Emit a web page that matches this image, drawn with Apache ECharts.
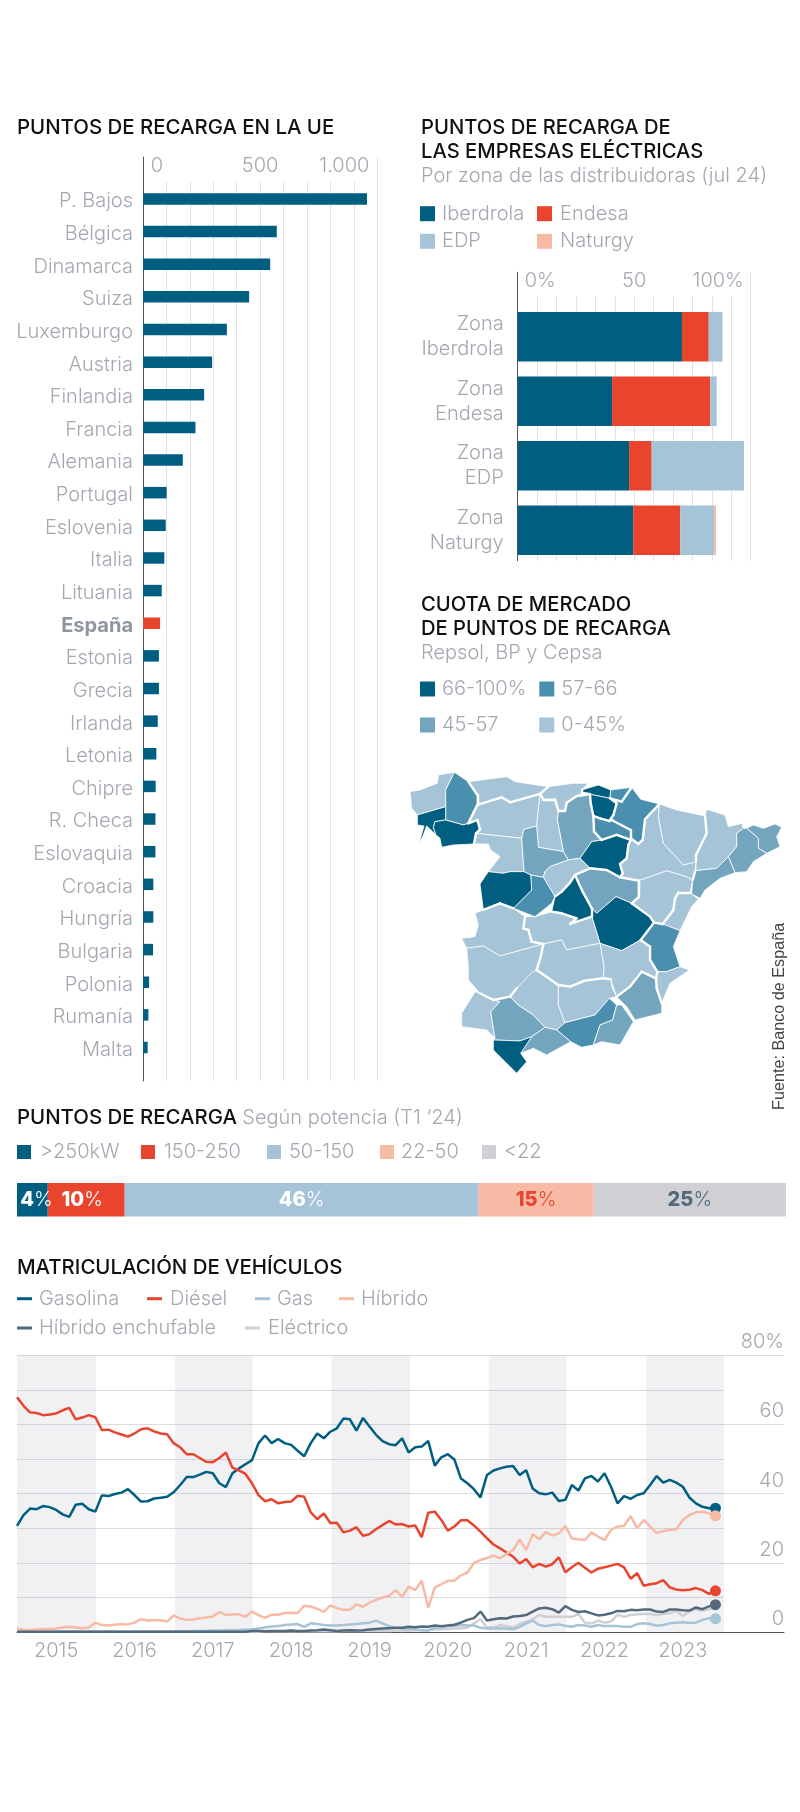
<!DOCTYPE html>
<html style="height: 100%">
<head>
    <meta charset="utf-8">
    <style>
        body{margin: 0; background: #fff}
        #container{width: 800px; height: 1812px}
    </style>
</head>
<body>
<div id="container"></div>
<script src="https://cdn.jsdelivr.net/npm/echarts@6/dist/echarts.min.js"></script>
<script type="text/javascript">
    var paises = ["P. Bajos","Bélgica","Dinamarca","Suiza","Luxemburgo","Austria","Finlandia","Francia","Alemania","Portugal","Eslovenia","Italia","Lituania","España","Estonia","Grecia","Irlanda","Letonia","Chipre","R. Checa","Eslovaquia","Croacia","Hungría","Bulgaria","Polonia","Rumanía","Malta"];
    var puntosUE = [956,571,543,453,358,295,261,224,170,101,97,91,80,73,68,68,63,57,54,53,53,44,44,43,26,23,20];
    var ticksUE = {0:"0",500:"500",1000:"1.000"};

    var zonas = ["Zona\nIberdrola","Zona\nEndesa","Zona\nEDP","Zona\nNaturgy"];
    var zonaIberdrola = [70.5,40.5,47.8,49.6];
    var zonaEndesa = [11.5,42.2,9.7,20.2];
    var zonaEDP = [5.9,2.7,39.6,14.5];
    var zonaNaturgy = [0,0,0,0.8];

    var potencias = [">250kW","150-250","50-150","22-50","<22"];
    var potenciaValores = [4,10,46,15,25];

    var provincias = ["A Coruña","Lugo","Pontevedra","Ourense","Asturias","Cantabria","Vizcaya","Gipuzkoa","Álava","Navarra","La Rioja","Burgos","Palencia","León","Zamora","Valladolid","Soria","Segovia","Ávila","Salamanca","Madrid","Guadalajara","Cuenca","Teruel","Zaragoza","Huesca","Lleida","Girona","Barcelona","Tarragona","Castellón","Valencia","Alicante","Murcia","Albacete","Toledo","Ciudad Real","Cáceres","Badajoz","Huelva","Sevilla","Córdoba","Jaén","Granada","Almería","Málaga","Cádiz"];
    var comunidad = ["GA","GA","GA","GA","AS","CB","PV","PV","PV","NC","RI","CL","CL","CL","CL","CL","CL","CL","CL","CL","MD","CM","CM","AR","AR","AR","CT","CT","CT","CT","VC","VC","VC","MC","CM","CM","CM","EX","EX","AN","AN","AN","AN","AN","AN","AN","AN"];
    var cuota = [38,60,72,74,36,40,70,59,71,61,60,50,38,36,35,51,72,37,62,70,78,49,75,34,36,38,40,52,50,48,37,60,39,50,35,33,34,36,35,39,50,37,36,58,51,49,73];
    var tramos = ["66-100%","57-66","45-57","0-45%"];

    var anios = ["2015","2016","2017","2018","2019","2020","2021","2022","2023"];
    var mesAnio = [6,18,30,42,54,66,78,90,102];
    var bandas = [[0,12.1],[24.2,36.1],[48.2,60.2],[72.3,84.2],[96.4,108.3]];
    var gasolina = [30.7,33.8,35.7,35.5,36.4,36.1,35.3,34.0,33.3,36.8,37.1,35.5,34.8,39.5,39.3,39.9,40.3,41.3,39.6,37.7,37.8,38.6,38.8,39.1,40.4,42.5,44.8,44.8,45.5,46.3,45.9,43.0,41.9,45.9,47.3,48.5,49.7,54.6,56.8,54.6,55.8,54.6,54.1,52.4,50.8,54.6,57.4,56.0,57.9,58.9,61.7,61.5,58.2,61.9,59.4,57.0,55.2,54.3,54.0,56.0,51.9,53.4,53.6,55.2,48.1,50.5,51.4,49.9,44.4,43.0,41.3,38.9,45.4,46.7,47.3,47.8,48.0,45.4,46.8,41.5,40.1,39.8,40.3,37.9,38.2,42.5,40.9,44.4,45.1,43.5,45.9,42.0,37.2,39.3,38.5,39.6,40.1,42.5,45.1,43.2,44.0,43.2,42.0,38.9,37.2,36.2,35.8,35.8];
    var diesel = [67.9,65.4,63.5,63.3,62.7,62.9,63.2,64.1,64.8,61.5,62.0,62.7,62.1,58.4,58.5,57.7,57.1,56.5,57.4,58.6,58.9,58.0,57.4,57.2,54.6,53.4,51.4,51.4,50.3,49.2,49.1,50.3,51.9,47.5,46.7,45.7,43.0,39.6,37.8,38.4,37.2,37.6,37.7,39.4,39.1,34.6,32.6,34.3,31.5,31.6,28.8,29.3,30.3,27.8,28.3,29.7,30.9,32.1,31.1,31.2,30.5,30.8,27.4,34.5,34.8,32.4,29.3,30.5,32.3,32.3,30.8,29.0,27.1,25.3,24.2,23.0,21.8,19.8,21.1,18.7,19.7,18.9,19.6,21.6,17.3,18.7,20.0,18.6,17.2,18.3,18.7,19.2,19.7,18.7,15.4,17.0,13.4,13.8,14.1,15.0,12.9,12.3,12.1,12.2,12.7,12.1,11.0,11.9];
    var gas = [0.1,0.1,0.1,0.1,0.1,0.1,0.1,0.1,0.1,0.1,0.1,0.1,0.1,0.1,0.1,0.1,0.1,0.1,0.1,0.1,0.1,0.1,0.1,0.1,0.2,0.2,0.2,0.3,0.3,0.3,0.4,0.4,0.5,0.5,0.6,0.7,0.8,1.0,1.3,1.6,1.7,2.0,2.2,2.3,1.5,2.5,2.3,2.0,1.9,1.9,2.0,2.2,2.3,2.5,2.7,3.3,2.5,1.7,1.2,1.0,0.8,0.8,0.5,0.4,1.2,1.3,1.7,1.7,2.0,1.9,1.9,1.2,1.0,1.0,1.1,1.0,0.8,1.5,2.5,3.3,2.0,1.7,2.0,2.2,1.8,1.5,2.0,1.9,1.5,2.0,1.7,1.7,1.7,1.5,1.5,2.3,2.5,2.3,1.8,2.0,2.5,2.7,2.8,2.7,2.7,3.5,4.0,3.8];
    var hibrido = [1.1,0.6,0.6,0.8,0.8,0.9,1.0,1.3,1.5,1.3,1.1,1.3,2.7,2.0,1.9,2.1,2.3,2.2,2.7,3.7,3.3,3.4,3.4,3.0,4.8,3.9,3.5,3.6,4.0,4.2,4.5,5.8,4.9,5.1,5.1,4.4,5.9,4.9,4.1,5.0,5.0,5.5,5.6,5.5,7.6,7.4,6.7,5.8,7.7,6.9,6.4,6.4,8.0,7.3,8.5,9.3,10.0,10.5,12.1,10.2,13.1,12.1,14.8,7.0,12.9,13.8,14.8,14.8,16.4,17.2,20.0,20.8,21.4,22.1,21.3,22.6,23.7,26.8,23.7,28.3,26.8,28.9,27.9,28.5,30.7,27.0,26.8,26.6,28.8,27.6,26.6,29.5,30.5,30.7,33.5,30.0,32.4,30.5,28.6,29.2,29.5,29.7,32.4,33.8,34.6,34.8,34.3,33.6];
    var enchufable = [0.1,0.1,0.1,0.1,0.1,0.1,0.1,0.1,0.1,0.1,0.1,0.1,0.1,0.1,0.1,0.1,0.1,0.1,0.1,0.1,0.1,0.1,0.1,0.1,0.1,0.1,0.1,0.1,0.1,0.1,0.1,0.1,0.1,0.1,0.1,0.1,0.3,0.3,0.2,0.3,0.3,0.3,0.4,0.3,0.3,0.4,0.5,0.7,0.5,0.3,0.4,0.5,0.4,0.5,0.7,0.9,1.0,1.1,1.2,1.2,1.5,1.4,1.6,1.5,1.9,1.7,1.9,2.1,2.7,3.5,4.0,5.9,3.3,3.7,4.0,3.9,4.5,4.6,4.9,5.9,6.8,7.0,6.6,5.6,7.5,6.4,5.8,6.0,5.4,4.8,5.0,5.4,6.1,6.0,6.4,6.3,6.5,6.5,5.9,5.8,6.5,6.5,6.3,6.2,7.1,6.6,7.4,7.9];
    var electrico = [0.1,0.1,0.1,0.1,0.1,0.1,0.1,0.1,0.1,0.1,0.1,0.1,0.1,0.1,0.1,0.1,0.1,0.1,0.1,0.1,0.1,0.1,0.1,0.1,0.1,0.1,0.1,0.1,0.1,0.1,0.1,0.1,0.1,0.1,0.1,0.1,0.1,0.1,0.2,0.2,0.2,0.2,0.2,0.2,0.2,0.2,0.2,0.3,0.2,0.2,0.3,0.3,0.3,0.3,0.3,0.3,0.3,0.3,0.4,0.4,0.4,0.5,0.5,0.6,0.7,0.8,0.9,1.0,1.1,1.3,2.5,3.7,1.3,1.3,2.0,1.7,1.3,2.3,3.0,3.7,4.9,4.4,4.4,4.4,4.4,4.4,5.2,2.7,2.5,3.3,2.7,3.0,5.0,4.4,4.9,5.1,5.2,5.2,4.9,5.2,5.4,6.1,4.6,5.9,6.6,6.1,6.6,6.8];

    // contornos de las provincias, en el sistema de la propia imagen
    var contornos = {
        "A Coruña":[[30,155],[60,150],[112,130],[115,105],[163,97],[137,150],[137,200],[52,225],[35,205]],
        "Lugo":[[163,97],[205,125],[232,165],[232,195],[222,215],[205,250],[190,255],[137,240],[137,200],[137,150]],
        "Pontevedra":[[52,225],[137,200],[137,240],[105,245],[100,262],[108,285],[80,258],[70,285],[57,310],[72,258],[52,255]],
        "Ourense":[[105,245],[137,240],[190,255],[205,250],[232,240],[240,268],[228,280],[222,312],[160,315],[125,322],[120,295],[108,285],[100,262]],
        "Asturias":[[205,125],[320,110],[345,125],[445,140],[420,162],[330,187],[305,172],[232,195],[232,165]],
        "Cantabria":[[445,140],[520,130],[565,130],[545,150],[545,158],[570,163],[530,168],[500,188],[495,212],[475,212],[465,178],[430,178],[420,162]],
        "Vizcaya":[[545,150],[595,135],[632,150],[630,175],[570,163],[545,158]],
        "Gipuzkoa":[[632,150],[695,142],[665,185],[630,175]],
        "Álava":[[570,163],[630,175],[650,190],[640,225],[628,243],[600,235],[580,228],[572,190]],
        "Navarra":[[695,142],[722,178],[778,192],[735,238],[728,300],[715,312],[692,295],[692,270],[635,240],[628,243],[640,225],[650,190],[630,175],[665,185]],
        "La Rioja":[[580,228],[600,235],[628,243],[635,240],[692,270],[692,295],[692,300],[650,285],[605,300],[582,275]],
        "Burgos":[[495,212],[500,188],[530,168],[570,163],[572,190],[580,228],[582,275],[605,300],[575,305],[540,355],[505,360],[490,335],[472,240],[475,212]],
        "Palencia":[[420,162],[430,178],[465,178],[475,212],[472,240],[490,335],[415,322],[410,258],[412,230]],
        "León":[[232,195],[305,172],[330,187],[420,162],[412,230],[410,258],[372,268],[365,295],[228,280],[240,268],[232,240],[205,250],[222,215]],
        "Zamora":[[228,280],[365,295],[372,395],[330,395],[310,400],[265,395],[300,350],[272,330],[265,312],[222,312]],
        "Valladolid":[[372,268],[410,258],[415,322],[490,335],[505,360],[450,380],[435,395],[430,412],[392,405],[372,395],[365,295]],
        "Soria":[[575,305],[605,300],[650,285],[692,300],[685,315],[680,355],[660,372],[668,400],[660,412],[620,390],[570,385],[540,355]],
        "Segovia":[[505,360],[540,355],[570,385],[525,405],[510,428],[485,455],[465,470],[430,412],[435,395],[450,380]],
        "Ávila":[[392,405],[430,412],[465,470],[455,490],[405,530],[340,505],[395,450]],
        "Salamanca":[[265,395],[310,400],[330,395],[372,395],[392,405],[395,450],[340,505],[300,490],[250,510],[240,432]],
        "Madrid":[[525,405],[548,455],[575,505],[575,530],[510,552],[530,535],[485,520],[455,515],[465,470],[485,455],[510,428]],
        "Guadalajara":[[525,405],[570,385],[620,390],[660,412],[715,422],[715,472],[695,490],[648,470],[590,520],[575,505],[548,455]],
        "Cuenca":[[648,470],[695,490],[750,530],[762,548],[722,600],[665,632],[600,610],[580,545],[575,530],[575,505],[590,520]],
        "Teruel":[[715,422],[800,392],[860,410],[878,420],[870,458],[835,458],[825,475],[820,510],[788,552],[762,548],[750,530],[695,490],[715,472]],
        "Zaragoza":[[735,238],[778,192],[775,230],[790,310],[850,375],[888,365],[885,395],[878,420],[860,410],[800,392],[715,422],[660,412],[668,400],[660,372],[680,355],[685,315],[692,300],[692,295],[715,312],[728,300]],
        "Huesca":[[778,192],[830,210],[915,228],[920,280],[888,345],[888,365],[850,375],[790,310],[775,230]],
        "Lleida":[[915,228],[920,208],[975,225],[985,260],[1025,250],[1030,265],[1010,280],[1010,320],[985,350],[975,360],[950,385],[888,392],[888,365],[888,345],[920,280]],
        "Girona":[[1040,265],[1060,255],[1090,265],[1125,252],[1145,262],[1130,290],[1140,320],[1100,340],[1075,325],[1075,295]],
        "Barcelona":[[1010,280],[1030,265],[1040,265],[1075,295],[1075,325],[1100,340],[1060,365],[1040,395],[1005,398],[985,350],[1010,320]],
        "Tarragona":[[975,360],[985,350],[1005,398],[960,415],[915,450],[900,475],[875,462],[878,420],[885,395],[888,392],[950,385]],
        "Castellón":[[835,458],[870,458],[875,462],[895,478],[875,500],[840,572],[788,552],[820,510],[825,475]],
        "Valencia":[[762,548],[788,552],[840,572],[820,620],[840,680],[800,695],[772,695],[750,660],[750,620],[722,600]],
        "Alicante":[[772,695],[800,695],[840,680],[868,690],[810,730],[785,790],[770,745],[768,715]],
        "Murcia":[[725,695],[768,715],[770,745],[785,790],[785,820],[705,840],[680,800],[650,770],[690,740]],
        "Albacete":[[600,610],[665,632],[722,600],[750,620],[750,660],[772,695],[768,715],[725,695],[690,740],[650,770],[632,718],[610,715],[612,680]],
        "Toledo":[[375,530],[405,530],[455,515],[485,520],[530,535],[510,552],[575,530],[580,545],[600,610],[500,630],[485,600],[430,612],[395,605],[385,570],[370,565]],
        "Ciudad Real":[[430,612],[485,600],[500,630],[600,610],[612,680],[610,715],[555,722],[510,740],[475,735],[410,690],[422,650]],
        "Cáceres":[[225,520],[250,510],[300,490],[340,505],[375,530],[370,565],[385,570],[395,605],[430,612],[300,648],[250,618],[200,625],[185,595],[225,590],[235,555]],
        "Badajoz":[[200,625],[250,618],[300,648],[430,612],[422,650],[410,690],[350,745],[330,770],[280,780],[240,760],[205,720],[205,680]],
        "Huelva":[[225,755],[240,760],[280,780],[300,785],[272,815],[285,895],[260,870],[185,860],[185,820]],
        "Sevilla":[[300,785],[280,780],[330,770],[355,795],[400,825],[435,862],[395,890],[360,903],[280,900],[285,895],[272,815]],
        "Córdoba":[[350,745],[395,698],[410,690],[475,735],[475,795],[495,848],[470,870],[435,862],[400,825],[355,795],[330,770]],
        "Jaén":[[475,735],[510,740],[555,722],[610,715],[632,718],[637,745],[650,770],[628,775],[585,825],[495,848],[475,795]],
        "Granada":[[628,775],[650,795],[638,840],[600,855],[580,915],[545,922],[512,905],[470,870],[495,848],[585,825]],
        "Almería":[[650,795],[665,795],[700,845],[660,915],[605,905],[580,915],[600,855],[638,840]],
        "Málaga":[[435,862],[470,870],[512,905],[440,945],[400,925],[362,940],[395,890]],
        "Cádiz":[[280,900],[360,903],[395,890],[362,940],[380,965],[350,1000],[295,945],[280,930]]
    };

    var azul = "#005f80", rojo = "#e8442e", celeste = "#a5c4d7", salmon = "#f7bba5", pizarra = "#54697b", perla = "#cfcfd4";
    var gris = "#a3a8b0", lineaGrid = "#e2e2e5", lineaEje = "#555";
    var fuente = "Inter";

    echarts.registerMap("espana", {
        type: "FeatureCollection",
        features: provincias.map(function (p) {
            var anillo = contornos[p].concat([contornos[p][0]]);
            return {type: "Feature", properties: {name: p}, geometry: {type: "Polygon", coordinates: [anillo]}};
        })
    });

    // los tramos que comparten dos provincias de distinta comunidad van con linea gruesa
    var tramosBorde = {}, bordesComunidad = [];
    provincias.forEach(function (p, i) {
        var c = contornos[p];
        c.forEach(function (a, j) {
            var b = c[(j + 1) % c.length];
            var clave = [a, b].map(String).sort().join("|");
            if (tramosBorde[clave] !== undefined && tramosBorde[clave] !== comunidad[i]) {
                bordesComunidad.push({coords: [a, b]});
            }
            tramosBorde[clave] = comunidad[i];
        });
    });

    function titulo(texto, x, y, color, peso, tam) {
        return {
            text: texto, left: x, top: y, padding: 0,
            textStyle: {fontFamily: fuente, fontSize: tam || 20, lineHeight: 24, color: color || "#111", fontWeight: peso || 500}
        };
    }

    function leyenda(nombre, x, y, w, h, gap) {
        return {
            data: [nombre], left: x, top: y - 12, padding: 0, icon: "rect", itemWidth: w, itemHeight: h, selectedMode: false,
            textStyle: {fontFamily: fuente, fontSize: 20, fontWeight: 300, color: gris, lineHeight: 24, padding: [0, 0, 0, gap]}
        };
    }

    function etiquetaTop(pl, pr) {
        return {fontFamily: fuente, fontSize: 20, fontWeight: 300, color: gris, lineHeight: 18, padding: [0, pr, 0, pl]};
    }

    function ejeOculto(grid, extra) {
        return Object.assign({
            gridIndex: grid, type: "value", min: 0, max: 1,
            axisLine: {show: false}, axisTick: {show: false}, axisLabel: {show: false}, splitLine: {show: false}
        }, extra || {});
    }

    var grids = [
        {left: 143, top: 157, width: 234.3, height: 924},
        {left: 143, top: 182, width: 234.3, height: 899},
        {left: 143, top: 185, width: 234.3, height: 881.2},
        {left: 517.7, top: 272.3, width: 233, height: 288.4},
        {left: 517.7, top: 296.7, width: 233, height: 264},
        {left: 517.7, top: 304.5, width: 233, height: 258},
        {left: 17, top: 1183, width: 769, height: 33.5},
        {left: 17, top: 1355.3, width: 767, height: 276.7},
        {left: 17, top: 1355.3, width: 707, height: 276.7}
    ].map(function (g) { return Object.assign(g, {outerBoundsMode: "none"}); });

    var lineaVertical = {show: true, onZero: false, lineStyle: {color: lineaEje, width: 1}};
    var lineaRejilla = {show: true, lineStyle: {color: lineaGrid, width: 1}};

    var xAxis = [
        ejeOculto(0, {max: 1000, interval: 500, position: "top", axisLabel: {
            show: true, inside: true, margin: 0,
            formatter: function (v) { return "{t" + v + "|" + ticksUE[v] + "}"; },
            rich: {t0: etiquetaTop(28, 0), t500: etiquetaTop(0, 0), t1000: etiquetaTop(0, 66)}
        }}),
        ejeOculto(1, {max: 1000, interval: 100, splitLine: lineaRejilla}),
        ejeOculto(2, {max: 1000, show: false}),
        ejeOculto(3, {max: 100, interval: 50, position: "top", axisLabel: {
            show: true, inside: true, margin: 0,
            formatter: function (v) { return "{t" + v + "|" + (v === 50 ? "50" : v + "%") + "}"; },
            rich: {t0: etiquetaTop(45, 0), t50: etiquetaTop(0, 0), t100: etiquetaTop(0, 65)}
        }}),
        ejeOculto(4, {max: 100, interval: 100 / 12, splitLine: lineaRejilla}),
        ejeOculto(5, {max: 100, show: false}),
        ejeOculto(6, {max: 100, show: false}),
        ejeOculto(7, {max: 117.5, position: "bottom",
            axisLine: {show: true, onZero: false, lineStyle: {color: lineaEje, width: 1}},
            axisLabel: {
                show: true, margin: 9, customValues: mesAnio,
                fontFamily: fuente, fontSize: 20, fontWeight: 300, color: gris,
                formatter: function (v) { return anios[mesAnio.indexOf(v)]; }
            }}),
        ejeOculto(8, {max: 107.9, show: false}),
        ejeOculto(0, {max: 1000, interval: 1000, position: "bottom", splitLine: lineaRejilla}),
        ejeOculto(3, {max: 100, interval: 100, position: "bottom", splitLine: lineaRejilla})
    ];

    var yAxis = [
        ejeOculto(0, {axisLine: lineaVertical}),
        ejeOculto(1),
        {gridIndex: 2, type: "category", inverse: true,
            data: paises.map(function (p) {
                return p === "España" ? {value: p, textStyle: {fontWeight: 700, color: "#8f95a0"}} : p;
            }),
            axisLine: {show: false}, axisTick: {show: false},
            axisLabel: {margin: 10, fontFamily: fuente, fontSize: 20, fontWeight: 300, color: gris}},
        ejeOculto(3, {axisLine: lineaVertical}),
        ejeOculto(4),
        {gridIndex: 5, type: "category", inverse: true, data: zonas,
            axisLine: {show: false}, axisTick: {show: false},
            axisLabel: {margin: 14, fontFamily: fuente, fontSize: 20, fontWeight: 300, color: gris, lineHeight: 25}},
        {gridIndex: 6, type: "category", data: ["potencia"], show: false},
        ejeOculto(7, {max: 80, interval: 20, position: "right", splitLine: {show: true, lineStyle: {color: "#dcdcdf", width: 1}},
            axisLabel: {
                show: true, inside: true, margin: 0, align: "right", verticalAlign: "bottom", lineHeight: 26,
                fontFamily: fuente, fontSize: 20, fontWeight: 300, color: gris,
                formatter: function (v) { return v === 80 ? "80%" : v; }
            }}),
        ejeOculto(8, {max: 80, interval: 10, splitLine: {show: true, lineStyle: {color: "#dcdcdf", width: 1}}})
    ];

    function serieZona(nombre, valores, color) {
        return {name: nombre, type: "bar", stack: "zona", xAxisIndex: 5, yAxisIndex: 5, barWidth: 49.7,
            itemStyle: {color: color}, data: valores};
    }

    var colorPotencia = [azul, rojo, celeste, salmon, perla];
    var colorTextoPotencia = ["#fff", "#fff", "#fff", rojo, pizarra];
    var desplazaPotencia = [4, -4, 0, 0, 0];

    var seriePotencia = potencias.map(function (nombre, i) {
        return {name: nombre, type: "bar", stack: "potencia", xAxisIndex: 6, yAxisIndex: 6, barWidth: 33.5,
            itemStyle: {color: colorPotencia[i]}, data: [potenciaValores[i]],
            label: {show: true, position: "inside", offset: [desplazaPotencia[i], 0],
                formatter: function (p) { return "{n|" + p.value + "}{p|%}"; },
                rich: {
                    n: {fontFamily: fuente, fontSize: 20, fontWeight: 800, color: colorTextoPotencia[i]},
                    p: {fontFamily: fuente, fontSize: 20, fontWeight: 300, color: colorTextoPotencia[i]}
                }}};
    });

    function serieLinea(nombre, valores, color, z, marca) {
        var ultimo = valores.length - 1;
        return {name: nombre, type: "line", xAxisIndex: 7, yAxisIndex: 7, z: z,
            showSymbol: true, showAllSymbols: true, symbolSize: 11, silent: true,
            symbol: function (v, p) { return marca && p.dataIndex === ultimo ? "circle" : "none"; },
            lineStyle: {color: color, width: 2.5}, itemStyle: {color: color},
            data: valores.map(function (v, i) { return [i, v]; })};
    }

    var lineaGasolina = serieLinea("Gasolina", gasolina, azul, 6, true);
    lineaGasolina.markArea = {silent: true, itemStyle: {color: "rgba(120,120,150,0.1)"},
        data: bandas.map(function (b) { return [{xAxis: b[0]}, {xAxis: b[1]}]; })};

    var series = [
        {name: "Puntos UE", type: "bar", xAxisIndex: 2, yAxisIndex: 2, barWidth: 11.5,
            itemStyle: {color: function (p) { return p.name === "España" ? rojo : azul; }}, data: puntosUE},
        serieZona("Iberdrola", zonaIberdrola, azul),
        serieZona("Endesa", zonaEndesa, rojo),
        serieZona("EDP", zonaEDP, celeste),
        serieZona("Naturgy", zonaNaturgy, salmon),
        {type: "map", geoIndex: 0, data: provincias.map(function (p, i) { return {name: p, value: cuota[i]}; })},
        {type: "lines", coordinateSystem: "geo", geoIndex: 0, silent: true, z: 3,
            lineStyle: {color: "#fff", width: 2.4, opacity: 1, cap: "round"}, data: bordesComunidad}
    ];
    var indiceMapa = series.length - 2;
    var colorTramo = [azul, "#4a90ae", "#74a5bf", celeste];
    tramos.forEach(function (t, i) {
        series.push({name: t, type: "bar", xAxisIndex: 2, yAxisIndex: 2, itemStyle: {color: colorTramo[i]}, data: []});
    });
    series = series.concat(seriePotencia, [
        lineaGasolina,
        serieLinea("Diésel", diesel, rojo, 6, true),
        serieLinea("Gas", gas, celeste, 5, true),
        serieLinea("Híbrido", hibrido, salmon, 7, true),
        serieLinea("Eléctrico", electrico, perla, 4, false),
        serieLinea("Híbrido enchufable", enchufable, pizarra, 8, true)
    ]);

    var option = {
        animation: false,
        title: [
            titulo("PUNTOS DE RECARGA EN LA UE", 17, 116, null, null, 20.4),
            titulo("PUNTOS DE RECARGA DE\nLAS EMPRESAS ELÉCTRICAS", 421, 116, null, null, 20.2),
            titulo("Por zona de las distribuidoras (jul 24)", 421, 164, gris, 300),
            titulo("CUOTA DE MERCADO\nDE PUNTOS DE RECARGA", 421, 593, null, null, 20.2),
            titulo("Repsol, BP y Cepsa", 421, 641, gris, 300),
            {text: "PUNTOS DE RECARGA {s|Según potencia (T1 ‘24)}", left: 17, top: 1106, padding: 0,
                textStyle: {fontFamily: fuente, fontSize: 20.4, lineHeight: 24, color: "#111", fontWeight: 500,
                    rich: {s: {fontFamily: fuente, fontSize: 20, fontWeight: 300, color: gris}}}},
            titulo("MATRICULACIÓN DE VEHÍCULOS", 17, 1256, null, null, 20.4)
        ],
        legend: [
            leyenda("Iberdrola", 420, 213.7, 15, 15, 2), leyenda("Endesa", 537, 213.7, 15, 15, 3),
            leyenda("EDP", 420, 241.3, 15, 15, 2), leyenda("Naturgy", 537, 241.3, 15, 15, 3),
            leyenda("66-100%", 420, 689, 15, 15, 2), leyenda("57-66", 539.3, 689, 15, 15, 2),
            leyenda("45-57", 420, 725, 15, 15, 2), leyenda("0-45%", 539.3, 725, 15, 15, 2),
            leyenda(">250kW", 17, 1152, 14, 14, 4), leyenda("150-250", 141, 1152, 14, 14, 4),
            leyenda("50-150", 267, 1152, 14, 14, 3), leyenda("22-50", 380, 1152, 14, 14, 2),
            leyenda("<22", 482, 1152, 14, 14, 3),
            leyenda("Gasolina", 17, 1298.7, 15, 3, 2), leyenda("Diésel", 147, 1298.7, 15, 3, 3),
            leyenda("Gas", 255, 1298.7, 15, 3, 2), leyenda("Híbrido", 339, 1298.7, 15, 3, 2),
            leyenda("Híbrido enchufable", 17, 1328, 15, 3, 2), leyenda("Eléctrico", 245, 1328, 15, 3, 3)
        ],
        grid: grids,
        xAxis: xAxis,
        yAxis: yAxis,
        geo: {
            map: "espana", roam: false, silent: true, aspectScale: 1,
            projection: {project: function (p) { return p; }, unproject: function (p) { return p; }},
            left: 410, top: 772.3, width: 371.7, height: 301,
            label: {show: false},
            itemStyle: {areaColor: celeste, borderColor: "#fff", borderWidth: 0.8}
        },
        visualMap: {
            type: "piecewise", show: false, seriesIndex: indiceMapa,
            pieces: [
                {gt: 66, lte: 100, color: colorTramo[0]},
                {gt: 57, lte: 66, color: colorTramo[1]},
                {gt: 45, lte: 57, color: colorTramo[2]},
                {gte: 0, lte: 45, color: colorTramo[3]}
            ]
        },
        graphic: [{
            type: "text", x: 780, y: 1110, rotation: Math.PI / 2,
            style: {text: "Fuente: Banco de España", fontFamily: "Liberation Sans", fontSize: 16.2, fill: "#444",
                textAlign: "left", textVerticalAlign: "middle"}
        }],
        series: series
    };

    var myChart = echarts.init(document.getElementById("container"));
    myChart.setOption(option);
</script>
</body>
</html>
